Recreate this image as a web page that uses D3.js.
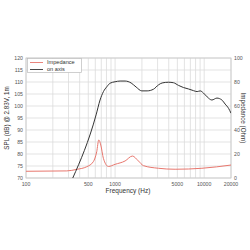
<!DOCTYPE html>
<html><head><meta charset="utf-8">
<script src="https://cdn.jsdelivr.net/npm/d3@7"></script>
<style>body{margin:0;background:#fff}svg{display:block}text{font-family:"Liberation Sans",Arial,sans-serif}</style>
</head><body><svg id="c" width="250" height="250"></svg>
<script>
const splFreq = [335, 612, 678, 740, 807, 879, 1000, 1138, 1295, 1513, 1722, 1995, 2290, 2700, 3070, 3375, 3970, 4520, 5140, 5850, 6660, 7580, 8340, 9020, 9820, 10800, 12200, 13900, 15800, 17200, 18800, 20000];
const splDb   = [70, 96.3, 102.5, 106, 108, 109.5, 110.1, 110.4, 110.4, 109.6, 107.9, 106.3, 106.3, 107, 108.8, 109.6, 109.9, 109.7, 108.6, 107.7, 107.1, 106.4, 106, 106.3, 105.4, 103.8, 102.5, 103.3, 102.5, 100.8, 99, 97];
const impFreq = [100, 287, 371, 481, 570, 622, 656, 691, 739, 841, 1000, 1295, 1563, 1827, 2080, 3070, 4720, 9420, 20000];
const impOhm  = [5.6, 5.9, 7.2, 9.4, 13.6, 21.9, 31.7, 27.5, 16.4, 9.6, 11.4, 14.2, 18.3, 14.2, 10.3, 8.1, 7.3, 8.1, 10.8];
const leftTicks = [70, 75, 80, 85, 90, 95, 100, 105, 110, 115, 120];
const rightTicks = [0, 20, 40, 60, 80, 100];
const xTickLabels = [100, 500, 1000, 5000, 10000, 20000];
const legendLabels = ["Impedance", "on axis"];

const svg = d3.select("#c");
const L = 26, R = 231, T = 58, B = 178;
const x = d3.scaleLog().domain([100, 20000]).range([L, R]);
const yL = d3.scaleLinear().domain([70, 120]).range([B, T]);
const yR = d3.scaleLinear().domain([0, 100]).range([B, T]);

// grid
const gridX = [];
[100, 1000, 10000].forEach(d => { for (let k = 1; k < 10; k++) { const v = d * k; if (v <= 20000) gridX.push(v); } });
svg.append("g").selectAll("line").data(gridX).join("line")
  .attr("x1", d => x(d)).attr("x2", d => x(d)).attr("y1", T).attr("y2", B)
  .attr("stroke", "#dcdcdc").attr("stroke-width", 0.8);
svg.append("g").selectAll("line").data(leftTicks).join("line")
  .attr("x1", L).attr("x2", R).attr("y1", d => yL(d)).attr("y2", d => yL(d))
  .attr("stroke", "#dcdcdc").attr("stroke-width", 0.8);
svg.append("rect").attr("x", L).attr("y", T).attr("width", R - L).attr("height", B - T)
  .attr("fill", "none").attr("stroke", "#c8c8c8").attr("stroke-width", 0.8);

// axes
const fs = 5.2;
const ax = svg.append("g").attr("fill", "#555").attr("font-size", fs);
ax.selectAll(".yl").data(leftTicks).join("text").attr("x", L - 3).attr("y", d => yL(d)).attr("dy", "0.35em")
  .attr("text-anchor", "end").text(d => d);
ax.selectAll(".yr").data(rightTicks).join("text").attr("x", R + 3).attr("y", d => yR(d)).attr("dy", "0.35em")
  .attr("text-anchor", "start").text(d => d);
ax.selectAll(".xt").data(xTickLabels).join("text").attr("x", d => x(d)).attr("y", B + 7.5)
  .attr("text-anchor", "middle").text(d => d);

svg.append("text").attr("x", 128).attr("y", 193).attr("text-anchor", "middle").attr("font-size", 6.5).attr("fill", "#333").text("Frequency (Hz)");
svg.append("text").attr("transform", `translate(9,${(T + B) / 2}) rotate(-90)`).attr("text-anchor", "middle").attr("font-size", 6.3).attr("fill", "#333").text("SPL (dB) @ 2.83V, 1m");
svg.append("text").attr("transform", `translate(241,${(T + B) / 2}) rotate(90)`).attr("text-anchor", "middle").attr("font-size", 6.3).attr("fill", "#333").text("Impedance (Ohm)");

// clip
svg.append("clipPath").attr("id", "clp").append("rect").attr("x", L).attr("y", T).attr("width", R - L).attr("height", B - T);

const impData = impFreq.map((f, i) => [f, impOhm[i]]);
const splData = splFreq.map((f, i) => [f, splDb[i]]);
svg.append("path").datum(impData).attr("clip-path", "url(#clp)")
  .attr("d", d3.line().x(d => x(d[0])).y(d => yR(d[1])).curve(d3.curveMonotoneX))
  .attr("fill", "none").attr("stroke", "#e8776e").attr("stroke-width", 1);
svg.append("path").datum(splData).attr("clip-path", "url(#clp)")
  .attr("d", d3.line().x(d => x(d[0])).y(d => yL(d[1])).curve(d3.curveMonotoneX))
  .attr("fill", "none").attr("stroke", "#333").attr("stroke-width", 1);

// legend
const lg = svg.append("g");
lg.append("rect").attr("x", 27.5).attr("y", 58.5).attr("width", 54).attr("height", 14).attr("fill", "#fff").attr("stroke", "#bbb").attr("stroke-width", 0.7);
const lc = ["#e8776e", "#333"];
legendLabels.forEach((t, i) => {
  const yy = 62.5 + i * 7;
  lg.append("line").attr("x1", 30).attr("x2", 43).attr("y1", yy).attr("y2", yy).attr("stroke", lc[i]).attr("stroke-width", 0.9);
  lg.append("text").attr("x", 47).attr("y", yy).attr("dy", "0.35em").attr("font-size", 5.6).attr("fill", "#333").text(t);
});
</script></body></html>
